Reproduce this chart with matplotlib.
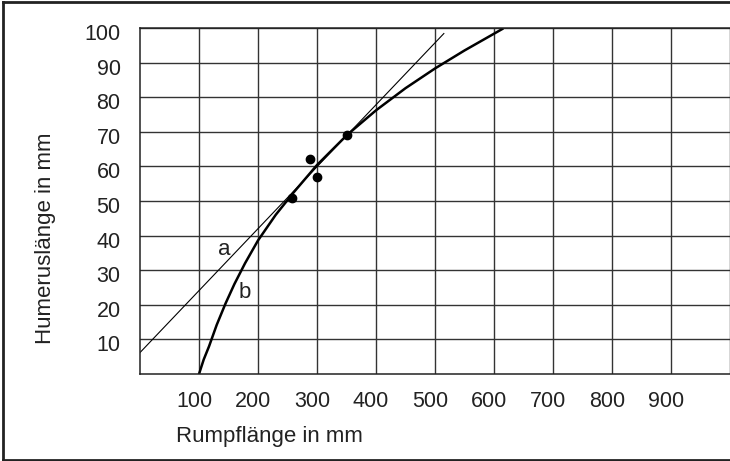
import numpy as np
import matplotlib.pyplot as plt
import matplotlib.transforms as mtransforms
from matplotlib.lines import Line2D

plt.rcParams['font.family'] = ['Liberation Sans', 'DejaVu Sans']

# Messpunkte (Rumpflaenge, Humeruslaenge) in mm
punkte_x = [258, 288, 300, 351]
punkte_y = [51, 62, 57, 69]

# Gerade a (Endpunkte)
gerade_a_x = [0, 515]
gerade_a_y = [6.2, 98.4]

kurve_b_x = [100, 108, 117, 130, 145, 160, 178, 200, 230, 260, 300, 351, 400, 450, 500, 550, 614]
kurve_b_y = [0, 4.2, 8.0, 14.2, 20.4, 26.0, 32.0, 38.6, 46.0, 52.4, 60.4, 69.1, 76.2, 82.6, 88.3, 93.5, 99.7]

x_ticks = [100, 200, 300, 400, 500, 600, 700, 800, 900]
y_ticks = [10, 20, 30, 40, 50, 60, 70, 80, 90, 100]

fig = plt.figure(figsize=(7.3, 4.61), dpi=100)
ax = fig.add_axes([0.1918, 0.1887, 0.8082, 0.7506])

ax.plot(gerade_a_x, gerade_a_y, color='black', lw=0.8)
ax.plot(kurve_b_x, kurve_b_y, color='black', lw=1.8)
ax.plot(punkte_x, punkte_y, 'o', color='black', markersize=6)

ax.text(142, 36, 'a', fontsize=16, ha='center', va='center', color='#222222')
ax.text(177, 23.5, 'b', fontsize=16, ha='center', va='center', color='#222222')

ax.set_xlim(0, 987)
ax.set_ylim(0, 100)
ax.set_xticks(x_ticks + [1000])
ax.set_xticklabels([str(t) for t in x_ticks] + [''])
ax.set_yticks(y_ticks)
ax.set_yticklabels([str(t) for t in y_ticks])
ax.tick_params(length=0, labelsize=15.5, colors='#222222')
ax.tick_params(axis='x', pad=12)
ax.tick_params(axis='y', pad=14)
ax.grid(True, color='#333333', lw=1)
ax.spines['right'].set_visible(False)
for s in ['left', 'bottom', 'top']:
    ax.spines[s].set_color('#222222')
    ax.spines[s].set_linewidth(1.1)

# Beschriftungen leicht verschieben wie im Original
dx = mtransforms.ScaledTranslation(-5 / 100, 0, fig.dpi_scale_trans)
for lab in ax.get_xticklabels():
    lab.set_transform(lab.get_transform() + dx)
dy = mtransforms.ScaledTranslation(0, -4 / 100, fig.dpi_scale_trans)
for lab in ax.get_yticklabels():
    lab.set_transform(lab.get_transform() + dy)

ax.set_xlabel('Rumpflänge in mm', fontsize=16, color='#222222', va='center')
ax.xaxis.set_label_coords(0.22, -0.182)
ax.set_ylabel('Humeruslänge in mm', fontsize=16, color='#222222', va='center', ha='center')
ax.yaxis.set_label_coords(-0.161, 0.393)

# Rahmen um die Abbildung
for xs, ys in [([0.004, 0.004], [0.002, 0.996]), ([0.004, 1.0], [0.996, 0.996]), ([0.004, 1.0], [0.002, 0.002])]:
    fig.add_artist(Line2D(xs, ys, color='#222222', lw=2, transform=fig.transFigure))

fig.savefig('out.png', dpi=100)
